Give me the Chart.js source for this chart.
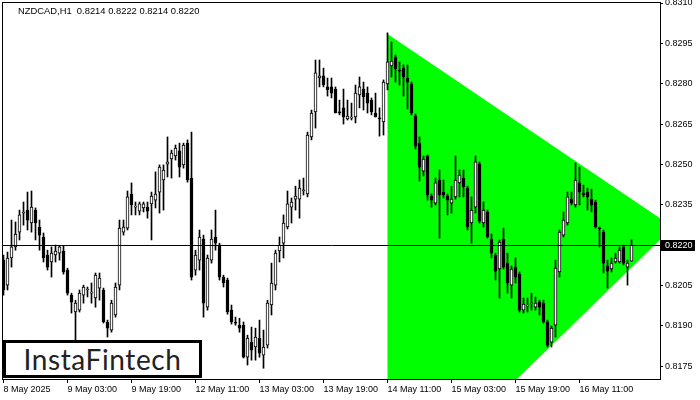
<!DOCTYPE html>
<html>
<head>
<meta charset="utf-8">
<title>NZDCAD,H1</title>
<script src="https://cdn.jsdelivr.net/npm/chart.js@4"></script>
<style>
    html, body { margin: 0; padding: 0; background: #fff; }
    #wrap { position: relative; width: 700px; height: 400px; overflow: hidden; }
    #chart { position: absolute; left: 0; top: 0; }
    #symbol {
        position: absolute; left: 18px; top: 5px;
        font: 9.4px 'Liberation Sans', Arial, sans-serif; color: #000;
        white-space: pre; line-height: 11px;
    }
    #logo {
        position: absolute; left: 3px; top: 340px; width: 193px; height: 32px;
        border: 3px solid #000; background: #fff; box-sizing: content-box;
        font: 28px Lato, 'Noto Sans', sans-serif; color: #222;
        line-height: 32px; text-align: center; letter-spacing: 0.6px;
    }
</style>
</head>
<body>
<div id="wrap">
    <canvas id="chart" width="700" height="400"></canvas>
    <div id="symbol">NZDCAD,H1  0.8214 0.8222 0.8214 0.8220</div>
    <div id="logo">InstaFintech</div>
</div>
<script>
// NZDCAD H1 candles (bar 0 = 8 May 11:00)
const openPrices = [
    0.82144, 0.82051, 0.82152, 0.82193, 0.82248, 0.82319, 0.82330, 0.82282, 0.82330, 0.82267,
    0.82230, 0.82163, 0.82137, 0.82163, 0.82170, 0.82178, 0.82107, 0.82014, 0.81951, 0.81958,
    0.82014, 0.82033, 0.82021, 0.82003, 0.82040, 0.82033, 0.81914, 0.81884, 0.81940, 0.82051,
    0.82248, 0.82263, 0.82390, 0.82341, 0.82326, 0.82338, 0.82341, 0.82353, 0.82367, 0.82397,
    0.82442, 0.82501, 0.82520, 0.82531, 0.82550, 0.82498, 0.82579, 0.82449, 0.82107, 0.82144,
    0.82222, 0.81969, 0.82144, 0.82230, 0.82200, 0.82081, 0.82070, 0.81958, 0.81914, 0.81902,
    0.81902, 0.81783, 0.81839, 0.81821, 0.81854, 0.81791, 0.81828, 0.81977, 0.82051, 0.82178,
    0.82207, 0.82267, 0.82341, 0.82371, 0.82371, 0.82401, 0.82390, 0.82602, 0.82695, 0.82821,
    0.82829, 0.82788, 0.82788, 0.82780, 0.82695, 0.82710, 0.82669, 0.82672, 0.82676, 0.82758,
    0.82780, 0.82765, 0.82739, 0.82691, 0.82672, 0.82658, 0.82799, 0.82866, 0.82899, 0.82851,
    0.82858, 0.82821, 0.82799, 0.82680, 0.82579, 0.82475, 0.82531, 0.82382, 0.82356, 0.82442,
    0.82397, 0.82382, 0.82356, 0.82379, 0.82431, 0.82449, 0.82412, 0.82282, 0.82341, 0.82501,
    0.82282, 0.82323, 0.82222, 0.82163, 0.82111, 0.82222, 0.82133, 0.82051, 0.82118, 0.82092,
    0.81958, 0.81973, 0.81981, 0.81969, 0.81988, 0.81984, 0.81914, 0.81839, 0.81902, 0.82100,
    0.82237, 0.82282, 0.82371, 0.82349, 0.82431, 0.82393, 0.82397, 0.82371, 0.82360, 0.82263,
    0.82248, 0.82122, 0.82111, 0.82137, 0.82137, 0.82193, 0.82118, 0.82140
];
const highPrices = [
    0.82163, 0.82174, 0.82293, 0.82286, 0.82330, 0.82360, 0.82397, 0.82401, 0.82338, 0.82293,
    0.82245, 0.82181, 0.82193, 0.82200, 0.82196, 0.82196, 0.82114, 0.82021, 0.81995, 0.82033,
    0.82051, 0.82044, 0.82059, 0.82096, 0.82096, 0.82040, 0.81921, 0.81995, 0.82059, 0.82293,
    0.82293, 0.82401, 0.82431, 0.82360, 0.82360, 0.82360, 0.82360, 0.82397, 0.82472, 0.82498,
    0.82498, 0.82602, 0.82553, 0.82572, 0.82579, 0.82579, 0.82591, 0.82620, 0.82181, 0.82256,
    0.82237, 0.82163, 0.82256, 0.82330, 0.82207, 0.82088, 0.82077, 0.81977, 0.81932, 0.81928,
    0.81914, 0.81865, 0.81895, 0.81891, 0.81921, 0.81884, 0.81995, 0.82133, 0.82181, 0.82230,
    0.82312, 0.82401, 0.82375, 0.82419, 0.82442, 0.82449, 0.82620, 0.82702, 0.82888, 0.82888,
    0.82858, 0.82821, 0.82821, 0.82788, 0.82739, 0.82780, 0.82739, 0.82728, 0.82795, 0.82825,
    0.82806, 0.82788, 0.82747, 0.82765, 0.82710, 0.82814, 0.82989, 0.82955, 0.82907, 0.82881,
    0.82870, 0.82870, 0.82806, 0.82687, 0.82602, 0.82531, 0.82535, 0.82390, 0.82449, 0.82479,
    0.82442, 0.82390, 0.82419, 0.82531, 0.82479, 0.82479, 0.82419, 0.82379, 0.82531, 0.82509,
    0.82360, 0.82330, 0.82241, 0.82170, 0.82219, 0.82263, 0.82170, 0.82122, 0.82152, 0.82100,
    0.82003, 0.82003, 0.82021, 0.82007, 0.81995, 0.81995, 0.81921, 0.81899, 0.82144, 0.82256,
    0.82323, 0.82397, 0.82397, 0.82505, 0.82490, 0.82423, 0.82412, 0.82408, 0.82367, 0.82267,
    0.82256, 0.82144, 0.82152, 0.82170, 0.82193, 0.82200, 0.82144, 0.82220
];
const lowPrices = [
    0.82014, 0.82033, 0.82118, 0.82181, 0.82219, 0.82274, 0.82256, 0.82248, 0.82219, 0.82181,
    0.82137, 0.82107, 0.82081, 0.82137, 0.82144, 0.82092, 0.82014, 0.81947, 0.81847, 0.81951,
    0.81984, 0.82007, 0.81984, 0.81969, 0.81995, 0.81910, 0.81858, 0.81876, 0.81932, 0.82033,
    0.82237, 0.82256, 0.82312, 0.82312, 0.82312, 0.82323, 0.82300, 0.82219, 0.82338, 0.82319,
    0.82330, 0.82453, 0.82449, 0.82516, 0.82453, 0.82486, 0.82434, 0.82070, 0.82088, 0.82107,
    0.81932, 0.81958, 0.82133, 0.82181, 0.82070, 0.82044, 0.81943, 0.81906, 0.81902, 0.81876,
    0.81780, 0.81754, 0.81772, 0.81772, 0.81783, 0.81742, 0.81817, 0.81940, 0.82033, 0.82137,
    0.82152, 0.82260, 0.82282, 0.82330, 0.82300, 0.82386, 0.82379, 0.82591, 0.82635, 0.82788,
    0.82788, 0.82754, 0.82747, 0.82691, 0.82684, 0.82650, 0.82665, 0.82665, 0.82654, 0.82710,
    0.82702, 0.82691, 0.82684, 0.82676, 0.82605, 0.82609, 0.82777, 0.82825, 0.82806, 0.82795,
    0.82754, 0.82706, 0.82684, 0.82557, 0.82438, 0.82457, 0.82367, 0.82341, 0.82349, 0.82226,
    0.82375, 0.82312, 0.82319, 0.82371, 0.82379, 0.82379, 0.82256, 0.82207, 0.82319, 0.82282,
    0.82267, 0.82226, 0.82152, 0.82070, 0.82003, 0.82111, 0.82021, 0.82003, 0.82059, 0.81951,
    0.81947, 0.81951, 0.81958, 0.81958, 0.81940, 0.81910, 0.81821, 0.81821, 0.81858, 0.82081,
    0.82230, 0.82274, 0.82349, 0.82341, 0.82349, 0.82379, 0.82330, 0.82323, 0.82263, 0.82193,
    0.82096, 0.82040, 0.82100, 0.82133, 0.82133, 0.82126, 0.82051, 0.82140
];
const closePrices = [
    0.82033, 0.82152, 0.82193, 0.82241, 0.82312, 0.82323, 0.82293, 0.82341, 0.82282, 0.82237,
    0.82152, 0.82118, 0.82170, 0.82178, 0.82193, 0.82100, 0.82021, 0.81988, 0.81984, 0.82021,
    0.82044, 0.82036, 0.82025, 0.82088, 0.82077, 0.81914, 0.81891, 0.81984, 0.82044, 0.82263,
    0.82267, 0.82379, 0.82349, 0.82345, 0.82353, 0.82353, 0.82326, 0.82382, 0.82390, 0.82490,
    0.82479, 0.82509, 0.82542, 0.82561, 0.82490, 0.82572, 0.82442, 0.82081, 0.82163, 0.82230,
    0.81984, 0.82152, 0.82222, 0.82207, 0.82081, 0.82059, 0.81951, 0.81914, 0.81910, 0.81891,
    0.81783, 0.81854, 0.81809, 0.81858, 0.81798, 0.81821, 0.81984, 0.82059, 0.82170, 0.82200,
    0.82282, 0.82353, 0.82360, 0.82382, 0.82412, 0.82405, 0.82609, 0.82691, 0.82840, 0.82829,
    0.82795, 0.82777, 0.82765, 0.82691, 0.82691, 0.82676, 0.82680, 0.82676, 0.82765, 0.82788,
    0.82751, 0.82728, 0.82695, 0.82676, 0.82669, 0.82806, 0.82881, 0.82884, 0.82855, 0.82847,
    0.82825, 0.82806, 0.82691, 0.82568, 0.82490, 0.82520, 0.82386, 0.82367, 0.82431, 0.82386,
    0.82386, 0.82367, 0.82371, 0.82442, 0.82460, 0.82416, 0.82267, 0.82330, 0.82509, 0.82289,
    0.82330, 0.82230, 0.82170, 0.82103, 0.82211, 0.82118, 0.82059, 0.82111, 0.82081, 0.81958,
    0.81981, 0.81977, 0.81984, 0.81984, 0.81969, 0.81914, 0.81828, 0.81891, 0.82114, 0.82248,
    0.82293, 0.82379, 0.82356, 0.82442, 0.82397, 0.82386, 0.82379, 0.82349, 0.82267, 0.82260,
    0.82133, 0.82103, 0.82133, 0.82152, 0.82181, 0.82133, 0.82133, 0.82200
];

// time axis labels, one every 16 bars
const timeLabels = ['8 May 2025', '9 May 03:00', '9 May 19:00', '12 May 11:00', '13 May 03:00',
    '13 May 19:00', '14 May 11:00', '15 May 03:00', '15 May 19:00', '16 May 11:00'];
const labelBars = [0, 16, 32, 48, 64, 80, 96, 112, 128, 144];

const priceTicks = [0.8175, 0.8190, 0.8205, 0.8220, 0.8235, 0.8250, 0.8265, 0.8280, 0.8295, 0.8310];
const lastPrice = 0.8220;

// symmetrical triangle pattern (bar index, price)
const triangleBars = [96, 167.4, 96, 96];
const trianglePrices = [0.82985, 0.82267, 0.81233, 0.82985];

const axisFont = { family: "'Liberation Sans', Arial, sans-serif", size: 9 };

const bars = openPrices.map((o, i) => i);
const wickData = bars.map(i => ({ x: i, y: [lowPrices[i], highPrices[i]] }));
const bodyData = bars.map(i => ({
    x: i,
    y: [Math.min(openPrices[i], closePrices[i]), Math.max(openPrices[i], closePrices[i])]
}));
const bodyColors = bars.map(i => closePrices[i] >= openPrices[i] ? '#ffffff' : '#000000');
const triangleData = triangleBars.map((b, i) => ({ x: b, y: trianglePrices[i] }));

// frame round the plot, bid line and price tag
const framePlugin = {
    id: 'frame',
    afterDatasetsDraw(chart) {
        const { ctx, chartArea: a, scales } = chart;
        const y = Math.floor(scales.y.getPixelForValue(lastPrice)) + 0.5;
        ctx.save();
        ctx.strokeStyle = '#000';
        ctx.lineWidth = 1;
        ctx.beginPath();
        ctx.moveTo(a.left, y);
        ctx.lineTo(a.right, y);
        ctx.stroke();
        ctx.restore();
    },
    afterDraw(chart) {
        const { ctx, chartArea: a, scales } = chart;
        ctx.save();
        ctx.strokeStyle = '#000';
        ctx.lineWidth = 1;
        ctx.strokeRect(a.left - 0.5, a.top - 0.5, a.right - a.left + 1, a.bottom - a.top + 1);

        const y = Math.floor(scales.y.getPixelForValue(lastPrice));
        ctx.fillStyle = '#000';
        ctx.fillRect(a.right + 1, y - 5, 34, 11);
        ctx.fillStyle = '#fff';
        ctx.font = "9px 'Liberation Sans', Arial, sans-serif";
        ctx.textBaseline = 'middle';
        ctx.fillText(lastPrice.toFixed(4), a.right + 5, y + 0.5);
        ctx.restore();
    }
};

new Chart(document.getElementById('chart'), {
    type: 'bar',
    data: {
        datasets: [
            {
                type: 'line',
                data: triangleData,
                backgroundColor: '#00ff00',
                borderColor: '#00ff00',
                borderWidth: 0,
                pointRadius: 0,
                fill: 'shape',
                tension: 0,
                order: 3
            },
            {
                data: wickData,
                backgroundColor: '#000',
                barThickness: 1,
                grouped: false,
                order: 2
            },
            {
                data: bodyData,
                backgroundColor: bodyColors,
                borderColor: '#000',
                borderWidth: 1,
                borderSkipped: false,
                barThickness: 3,
                minBarLength: 1,
                grouped: false,
                order: 1
            }
        ]
    },
    options: {
        responsive: false,
        animation: false,
        layout: { padding: { left: 3, top: 3, right: 0, bottom: 0 } },
        plugins: {
            legend: { display: false },
            tooltip: { enabled: false },
            title: { display: false }
        },
        scales: {
            x: {
                type: 'linear',
                min: -0.125,
                max: 164.125,
                offset: false,
                afterBuildTicks: s => { s.ticks = labelBars.map(v => ({ value: v })); },
                afterFit: s => { s.height = 21; s.paddingLeft = 0; s.paddingRight = 0; },
                ticks: {
                    align: 'start',
                    autoSkip: false,
                    maxRotation: 0,
                    padding: 1,
                    color: '#000',
                    font: axisFont,
                    callback: (v, i) => timeLabels[i]
                },
                grid: { offset: false, drawOnChartArea: false, drawTicks: true, tickLength: 4, color: '#000' },
                border: { display: true, color: '#000' }
            },
            y: {
                position: 'right',
                min: 0.81702,
                max: 0.8310,
                beginAtZero: false,
                afterBuildTicks: s => { s.ticks = priceTicks.map(v => ({ value: v })); },
                afterFit: s => { s.width = 40; s.paddingTop = 0; s.paddingBottom = 0; },
                ticks: {
                    autoSkip: false,
                    padding: 2,
                    color: '#000',
                    font: axisFont,
                    callback: v => v.toFixed(4)
                },
                grid: { drawOnChartArea: false, drawTicks: true, tickLength: 3, color: '#000' },
                border: { display: true, color: '#000' }
            }
        }
    },
    plugins: [framePlugin]
});
</script>
</body>
</html>
